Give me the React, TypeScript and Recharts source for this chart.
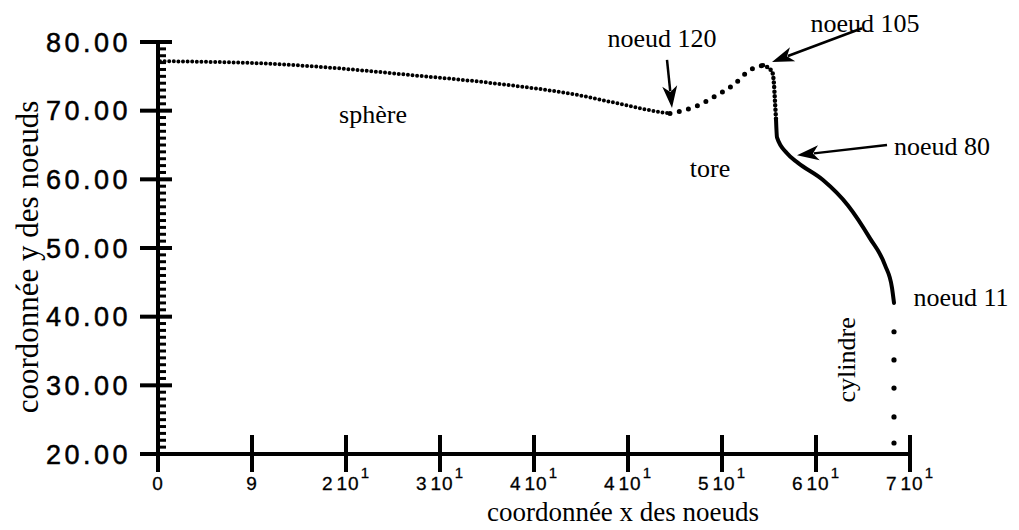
import { ComposedChart, Line, XAxis, YAxis, ReferenceLine, ReferenceDot, Label } from "recharts"

// sphere part, dense dots (up to node 120)
const sphereX = [0.2, 10.2, 16.9, 25.2, 33.5, 41.9, 46.5, 50.2, 51.2]
const sphereY = [77.2, 76.9, 76.3, 75.2, 74.0, 72.3, 70.9, 69.8, 69.6]

// tore part, sparse dots (node 120 .. node 105)
const toreX = [51.2, 53.9, 55.7, 57.5, 59.2, 60.5]
const toreY = [69.6, 70.7, 72.1, 73.7, 75.9, 76.6]

// tore descent after node 105, dense dots
const descX = [60.5, 61.4, 61.6, 61.7, 61.8]
const descY = [76.6, 75.7, 73.8, 71.3, 68.8]

// solid part down to node 11
const solidX = [61.8, 61.9, 62.9, 64.0, 66.5, 69.0, 71.2, 72.7, 73.4, 73.6]
const solidY = [68.8, 66.1, 63.8, 62.4, 59.9, 56.2, 51.4, 47.5, 44.2, 42.0]

// cylinder nodes
const cylX = [73.6, 73.6, 73.6, 73.6, 73.6]
const cylY = [37.8, 33.7, 29.6, 25.4, 21.6]

const xTicks = [0, 9.4, 18.8, 28.2, 37.6, 47, 56.4, 65.8, 75.2]
const xTickMant = ["0", "9", "2", "3", "4", "4", "5", "6", "7"]
const xTickExps = ["", "", "1", "1", "1", "1", "1", "1", "1"]

const yMajor = [20, 30, 40, 50, 60, 70, 80]
const yTickLabels = ["20.00", "30.00", "40.00", "50.00", "60.00", "70.00", "80.00"]

const noteText = ["noeud 120", "noeud 105", "noeud 80", "noeud 11", "sphère", "tore", "cylindre"]
const noteX = [50.4, 70.7, 78.4, 80.3, 21.5, 55.2, 69.7]
const noteY = [79.2, 81.4, 63.5, 41.5, 68.2, 60.3, 33.7]
const noteRot = [0, 0, 0, 0, 0, 0, -90]

const arrowFrom = [[50.9, 77.4], [70.4, 82.0], [72.9, 65.0]]
const arrowTo = [[51.4, 70.4], [61.4, 77.1], [63.9, 63.5]]

const zip = (xs: number[], ys: number[]) => xs.map((x, i) => ({ x, y: ys[i] }))
const yTicks = Array.from({ length: 61 }, (_, i) => 20 + i)

const serif = "'Liberation Serif', 'Times New Roman', serif"
const sans = "'Liberation Sans', Arial, sans-serif"

const YTick = (props: any) => {
  const { x, y, payload } = props
  const v = payload.value
  const idx = yMajor.indexOf(v)
  if (idx >= 0) {
    return (
      <g>
        <line x1={x - 18} x2={x + 14} y1={y} y2={y} stroke="#000" strokeWidth={4} />
        <text x={x - 27} y={y} dy={9.6} textAnchor="end" fontFamily={sans} fontSize={27} letterSpacing={3.5}
          fill="#000" stroke="#000" strokeWidth={0.5}>
          {yTickLabels[idx]}
        </text>
      </g>
    )
  }
  return <line x1={x} x2={x + 8} y1={y} y2={y} stroke="#000" strokeWidth={3} />
}

const XTick = (props: any) => {
  const { x, y, index } = props
  const exp = xTickExps[index]
  return (
    <g>
      <line x1={x} x2={x} y1={y - 19} y2={y + 18} stroke="#000" strokeWidth={4} />
      <text x={x} y={y + 36} textAnchor="middle" fontFamily={sans} fontSize={19} letterSpacing={1} fill="#000"
        stroke="#000" strokeWidth={0.3}>
        <tspan>{xTickMant[index]}</tspan>
        {exp && <tspan dx={3}>10</tspan>}
        {exp && <tspan dx={1} dy={-12} fontSize={15}>{exp}</tspan>}
      </text>
    </g>
  )
}

const arrowShape = (p: any) => {
  const { x1, y1, x2, y2 } = p
  const dx = x2 - x1, dy = y2 - y1
  const len = Math.hypot(dx, dy)
  const ux = dx / len, uy = dy / len
  const bx = x2 - ux * 22, by = y2 - uy * 22
  const px = -uy * 7.5, py = ux * 7.5
  return (
    <g>
      <line x1={x1} y1={y1} x2={bx + ux * 5} y2={by + uy * 5} stroke="#000" strokeWidth={2.5} />
      <polygon
        points={`${x2},${y2} ${bx + px},${by + py} ${bx + ux * 6},${by + uy * 6} ${bx - px},${by - py}`}
        fill="#000"
      />
    </g>
  )
}

export default function App() {
  return (
    <div style={{ position: "absolute", left: 0, top: 0, width: 1019, height: 530, background: "#fff" }}>
      <ComposedChart width={1019} height={530} margin={{ top: 42, right: 109, bottom: 0, left: 0 }}>
        <XAxis
          type="number"
          dataKey="x"
          domain={[0, 75.2]}
          ticks={xTicks}
          interval={0}
          height={76}
          tickSize={0}
          tickMargin={0}
          tickLine={false}
          axisLine={{ stroke: "#000", strokeWidth: 4 }}
          tick={<XTick />}
          allowDataOverflow
        >
          <Label
            content={() => (
              <text x={623} y={521} textAnchor="middle" fontFamily={serif} fontSize={27} fill="#000">
                coordonnée x des noeuds
              </text>
            )}
          />
        </XAxis>
        <YAxis
          type="number"
          domain={[20, 80]}
          ticks={yTicks}
          interval={0}
          width={158}
          tickSize={0}
          tickMargin={0}
          tickLine={false}
          axisLine={{ stroke: "#000", strokeWidth: 4 }}
          tick={<YTick />}
          allowDataOverflow
        >
          <Label
            content={() => (
              <text x={38} y={257} transform="rotate(-90 38 257)" textAnchor="middle" fontFamily={serif} fontSize={31} fill="#000">
                coordonnée y des noeuds
              </text>
            )}
          />
        </YAxis>

        <Line data={zip(sphereX, sphereY)} dataKey="y" type="monotone" stroke="#000" strokeWidth={4}
          strokeDasharray="0 4.6" strokeLinecap="round" dot={false} isAnimationActive={false} />
        <Line data={zip(toreX, toreY)} dataKey="y" type="monotone" stroke="#000" strokeWidth={5}
          strokeDasharray="0 9.5" strokeLinecap="round" dot={false} isAnimationActive={false} />
        <Line data={zip(descX, descY)} dataKey="y" type="monotone" stroke="#000" strokeWidth={4.5}
          strokeDasharray="0 4.5" strokeLinecap="round" dot={false} isAnimationActive={false} />
        <Line data={zip(solidX, solidY)} dataKey="y" type="monotone" stroke="#000" strokeWidth={4}
          strokeLinecap="round" dot={false} isAnimationActive={false} />
        <Line data={zip(cylX, cylY)} dataKey="y" stroke="none" dot={{ r: 2.6, fill: "#000", stroke: "none" }}
          isAnimationActive={false} />

        {arrowFrom.map((f, i) => (
          <ReferenceLine
            key={"a" + i}
            segment={[{ x: f[0], y: f[1] }, { x: arrowTo[i][0], y: arrowTo[i][1] }]}
            ifOverflow="visible"
            shape={arrowShape}
          />
        ))}

        {noteText.map((t, i) => (
          <ReferenceDot
            key={"n" + i}
            x={noteX[i]}
            y={noteY[i]}
            r={0}
            ifOverflow="visible"
            shape={(p: any) => (
              <text
                x={p.cx}
                y={p.cy}
                textAnchor="middle"
                transform={noteRot[i] ? `rotate(${noteRot[i]} ${p.cx} ${p.cy})` : undefined}
                fontFamily={serif}
                fontSize={26}
                fill="#000"
              >
                {t}
              </text>
            )}
          />
        ))}
      </ComposedChart>
    </div>
  )
}
